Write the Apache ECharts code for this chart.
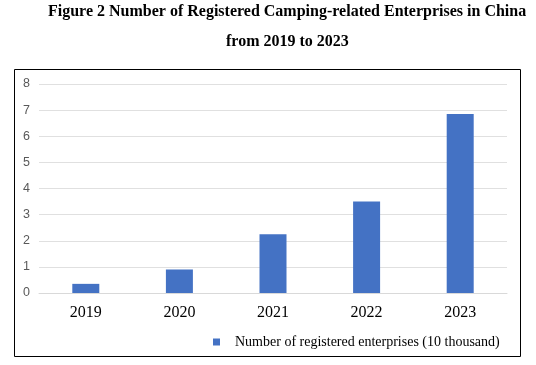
<!DOCTYPE html>
<html><head><meta charset="utf-8">
<script src="https://cdn.jsdelivr.net/npm/echarts@6/dist/echarts.min.js"></script>
<style>html,body{margin:0;padding:0;background:#fff}#c{width:536px;height:365px}</style>
</head><body><div id="c"></div>
<script>
const titleLines = ['Figure 2 Number of Registered Camping-related Enterprises in China', 'from 2019 to 2023'];
const years = ['2019', '2020', '2021', '2022', '2023'];
const enterprises = [0.35, 0.9, 2.25, 3.5, 6.85];
const seriesName = 'Number of registered enterprises (10 thousand)';
const yTicks = { min: 0, max: 8, interval: 1 };

const chart = echarts.init(document.getElementById('c'));
const titleStyle = { fontFamily: 'Liberation Serif', fontSize: 16, fontWeight: 'bold', color: '#000' };
chart.setOption({
  animation: false,
  title: [
    { text: titleLines[0], left: 48, top: 4, padding: 0, textStyle: titleStyle },
    { text: titleLines[1], left: 226, top: 34, padding: 0, textStyle: titleStyle }
  ],
  graphic: [{ type: 'rect', shape: { x: 14.5, y: 69.5, width: 506, height: 287 }, style: { fill: 'none', stroke: '#000', lineWidth: 1 }, silent: true }],
  legend: {
    data: [seriesName], left: 208, top: 330, itemWidth: 7, itemHeight: 7, itemGap: 10,
    icon: 'rect',
    textStyle: { fontFamily: 'Liberation Serif', fontSize: 14, color: '#000', padding: [0, 0, 0, 10] }
  },
  grid: { left: 39, right: 29, top: 84, bottom: 72, containLabel: false },
  xAxis: {
    type: 'category', data: years,
    axisLine: { show: true, lineStyle: { color: '#d9d9d9' } },
    axisTick: { show: false },
    axisLabel: { fontFamily: 'Liberation Serif', fontSize: 16, color: '#000', margin: 12 }
  },
  yAxis: {
    type: 'value', min: yTicks.min, max: yTicks.max, interval: yTicks.interval,
    axisLine: { show: false }, axisTick: { show: false },
    axisLabel: { fontFamily: 'Liberation Sans', fontSize: 12.5, color: '#595959', margin: 9 },
    splitLine: { lineStyle: { color: '#e0e0e0' } }
  },
  series: [{
    name: seriesName, type: 'bar', data: enterprises, barWidth: 27,
    itemStyle: { color: '#4472C4' }
  }]
});
</script></body></html>
